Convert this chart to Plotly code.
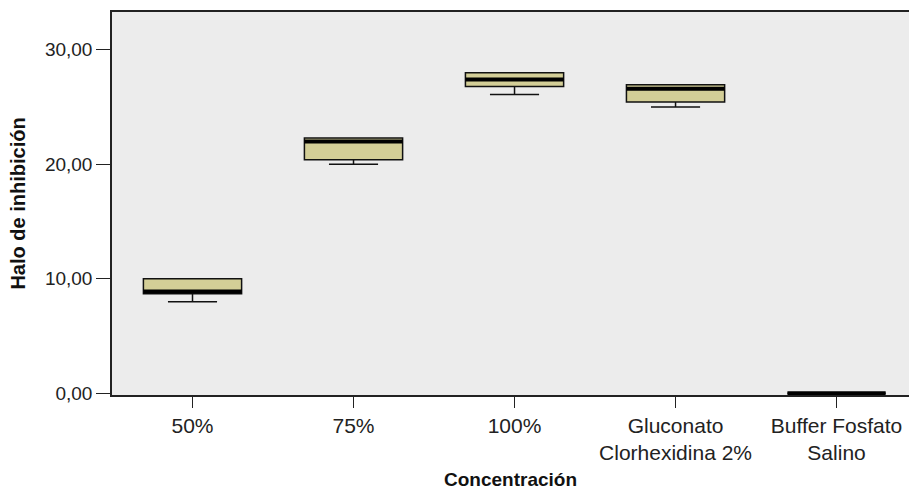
import plotly.graph_objects as go

categories = ["50%", "75%", "100%", "Gluconato<br>Clorhexidina 2%", "Buffer Fosfato<br>Salino"]
lower_whisker = [8.0, 20.0, 26.1, 25.0, 0.0]
q1 = [8.7, 20.4, 26.8, 25.45, 0.0]
median = [8.9, 22.0, 27.4, 26.6, 0.0]
q3 = [10.0, 22.3, 28.0, 26.95, 0.0]
upper_whisker = [10.0, 22.3, 28.0, 26.95, 0.0]
y_ticks = [0, 10, 20, 30]

fig = go.Figure()
fig.add_trace(go.Box(
    x=categories, q1=q1, median=median, q3=q3,
    lowerfence=lower_whisker, upperfence=upper_whisker,
    fillcolor="#d3ce97", line=dict(color="#111111", width=1.5),
    whiskerwidth=0.5, boxpoints=False, hoverinfo="skip", showlegend=False,
))
# thick median line (SPSS style)
fig.add_trace(go.Box(
    x=categories, q1=median, median=median, q3=median,
    lowerfence=median, upperfence=median,
    fillcolor="#000000", line=dict(color="#000000", width=4),
    whiskerwidth=0, boxpoints=False, hoverinfo="skip", showlegend=False,
))

fig.update_layout(
    width=909, height=490,
    margin=dict(l=112, r=0, t=12, b=93),
    paper_bgcolor="white", plot_bgcolor="#ececec",
    boxmode="overlay", boxgap=0.39, boxgroupgap=0,
    separators=",.",
    font=dict(family="Liberation Sans, Arial, sans-serif", size=20, color="#222222"),
    showlegend=False,
)
fig.update_xaxes(
    type="category", range=[-0.5, 4.45],
    showline=True, linecolor="#222222", linewidth=1.5, mirror=True,
    ticks="outside", ticklen=11, tickcolor="#222222", showgrid=False,
    tickfont=dict(size=21),
    title=dict(text="<b>Concentración</b>", font=dict(size=19, color="#111111"), standoff=12),
)
fig.update_yaxes(
    range=[-0.15, 33.3], tickvals=y_ticks, tickformat=".2f",
    showline=True, linecolor="#222222", linewidth=1.5, mirror=False,
    ticks="outside", ticklen=14, tickcolor="#222222", showgrid=False, zeroline=False,
    tickfont=dict(size=19),
    title=dict(text="<b>Halo de inhibición</b>", font=dict(size=20, color="#111111"), standoff=14),
)

fig.write_html("out.html", config={"displayModeBar": False},
               post_script="document.body.style.margin='0';")
